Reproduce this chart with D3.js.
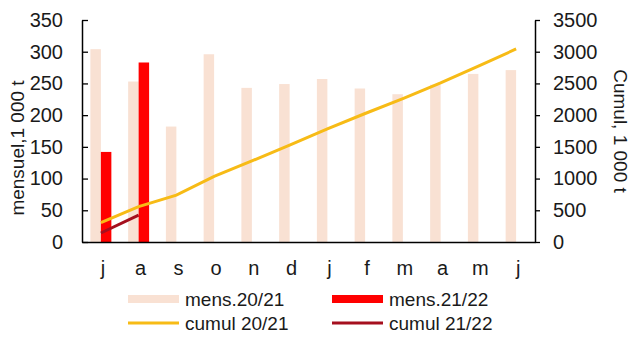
<!DOCTYPE html>
<html>
<head>
<meta charset="utf-8">
<script src="https://cdn.jsdelivr.net/npm/d3@7"></script>
<style>
body{margin:0;background:#fff;}
text{font-family:"Liberation Sans",Arial,sans-serif;fill:#1a1a1a;}
</style>
</head>
<body>
<svg id="chart" width="632" height="338"></svg>
<script>
const months = ["j","a","s","o","n","d","j","f","m","a","m","j"];
const mens2021 = [304,253,182,296,243,249,257,242,233,248,265,271];
const mens2122 = [142,283];
const cumul2021 = [304,557,739,1035,1278,1527,1784,2026,2259,2507,2772,3043];
const cumul2122 = [142,425];
const leftTicks = [0,50,100,150,200,250,300,350];
const rightTicks = [0,500,1000,1500,2000,2500,3000,3500];

const C_PALE = "#f9e1d3", C_RED = "#ff0000", C_GOLD = "#f7bb16", C_DARK = "#a50f1e";

const svg = d3.select("#chart");
const L = 82, R = 535, T = 20, B = 242;

const x = d3.scaleBand().domain(d3.range(months.length)).range([L, R]).padding(0);
const x1 = d3.scaleBand().domain([0,1]).range([0, x.bandwidth()]).paddingInner(0).paddingOuter(0.8);
const yL = d3.scaleLinear().domain([0,350]).range([B, T]);
const yR = d3.scaleLinear().domain([0,3500]).range([B, T]);

// bars 20/21
svg.append("g").selectAll("rect").data(mens2021).join("rect")
  .attr("x",(d,i)=>x(i)+x1(0)).attr("width",x1.bandwidth())
  .attr("y",d=>yL(d)).attr("height",d=>B-yL(d)).attr("fill",C_PALE);
// bars 21/22
svg.append("g").selectAll("rect").data(mens2122).join("rect")
  .attr("x",(d,i)=>x(i)+x1(1)).attr("width",x1.bandwidth())
  .attr("y",d=>yL(d)).attr("height",d=>B-yL(d)).attr("fill",C_RED);

const cx = i => x(i) + x.bandwidth()/2;
const line = d3.line().x((d,i)=>cx(i)).y(d=>yR(d));
svg.append("path").datum(cumul2021).attr("d",line).attr("fill","none")
  .attr("stroke",C_GOLD).attr("stroke-width",3);
svg.append("path").datum(cumul2122).attr("d",line).attr("fill","none")
  .attr("stroke",C_DARK).attr("stroke-width",3);

// axes
const fs = "20px";
const axL = svg.append("g").attr("transform",`translate(${L},0)`)
  .call(d3.axisLeft(yL).tickValues(leftTicks).tickSizeInner(-6).tickSizeOuter(0).tickPadding(19));
const axR = svg.append("g").attr("transform",`translate(${R},0)`)
  .call(d3.axisRight(yR).tickValues(rightTicks).tickFormat(d3.format("d")).tickSizeInner(5).tickSizeOuter(0).tickPadding(13));
const axB = svg.append("g").attr("transform",`translate(0,${B})`)
  .call(d3.axisBottom(x).tickFormat(i=>months[i]).tickSize(0).tickPadding(19));
[axL,axR,axB].forEach(g=>{
  g.selectAll("path.domain").attr("stroke","#000").attr("stroke-width",1.5);
  g.selectAll(".tick line").attr("stroke","#000").attr("stroke-width",1.3);
  g.selectAll("text").attr("font-size",fs).attr("font-family","Liberation Sans, Arial, sans-serif").attr("fill","#1a1a1a");
});
axB.selectAll("text").attr("dx","2px");

// axis titles
svg.append("text").attr("transform","translate(24,148) rotate(-90)")
  .attr("text-anchor","middle").attr("font-size","19px").text("mensuel,1 000 t");
svg.append("text").attr("transform","translate(614,131) rotate(90)")
  .attr("text-anchor","middle").attr("font-size","19px").text("Cumul, 1 000 t");

// legend
const legend = [
  {label:"mens.20/21", color:C_PALE, h:8, x:128, y:299},
  {label:"mens.21/22", color:C_RED, h:8, x:332, y:299},
  {label:"cumul 20/21", color:C_GOLD, h:3, x:128, y:323},
  {label:"cumul 21/22", color:C_DARK, h:3, x:332, y:323}
];
const lg = svg.append("g").selectAll("g").data(legend).join("g")
  .attr("transform",d=>`translate(${d.x},${d.y})`);
lg.append("rect").attr("x",0).attr("width",51).attr("y",d=>-d.h/2).attr("height",d=>d.h).attr("fill",d=>d.color);
lg.append("text").attr("x",57).attr("dy","0.35em").attr("font-size","19px").text(d=>d.label);
</script>
</body>
</html>
